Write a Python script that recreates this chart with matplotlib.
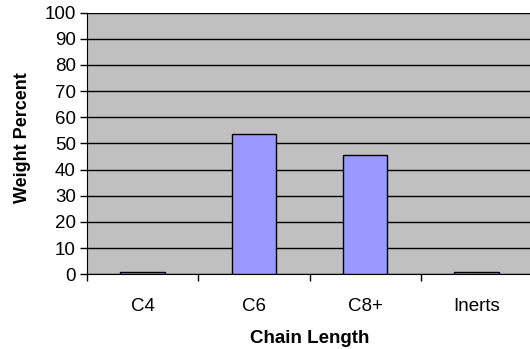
import matplotlib.pyplot as plt
import numpy as np

plt.rcParams['font.family'] = ['Liberation Sans', 'DejaVu Sans']

categories = ["C4", "C6", "C8+", "Inerts"]
weight_pct = [0.7, 53.5, 45.4, 1.0]

fig = plt.figure(figsize=(5.3, 3.49), dpi=100)
ax = fig.add_axes([0.164, 0.214, 0.84, 0.75])
ax.set_facecolor("#C0C0C0")

x = np.arange(len(categories))
ax.bar(x, weight_pct, width=0.4, color="#9999FF", edgecolor="black", linewidth=1, zorder=3)

ax.set_ylim(0, 100)
ax.set_yticks(range(0, 101, 10))
ax.yaxis.grid(True, color="black", linewidth=1, zorder=0)
ax.set_xlim(-0.5, len(categories) - 0.5)
ax.set_xticks(x)
ax.set_xticklabels(categories)
ax.set_xticks(np.arange(-0.5, len(categories), 1), minor=True)
ax.tick_params(axis="x", which="major", length=0, pad=17, labelsize=13.5)
ax.tick_params(axis="x", which="minor", length=5, width=1, direction="out")
ax.tick_params(axis="y", length=5, width=1, direction="out", labelsize=13.5, pad=3)

for side in ["top", "right"]:
    ax.spines[side].set_visible(False)
ax.spines["left"].set_color("black")
ax.spines["bottom"].set_color("black")

ax.set_xlabel("Chain Length", fontsize=13.5, fontweight="bold", labelpad=11)
ax.set_ylabel("Weight Percent", fontsize=13, fontweight="bold", labelpad=9)
ax.yaxis.set_label_coords(-0.126, 0.524)

fig.savefig("out.png", dpi=100)
